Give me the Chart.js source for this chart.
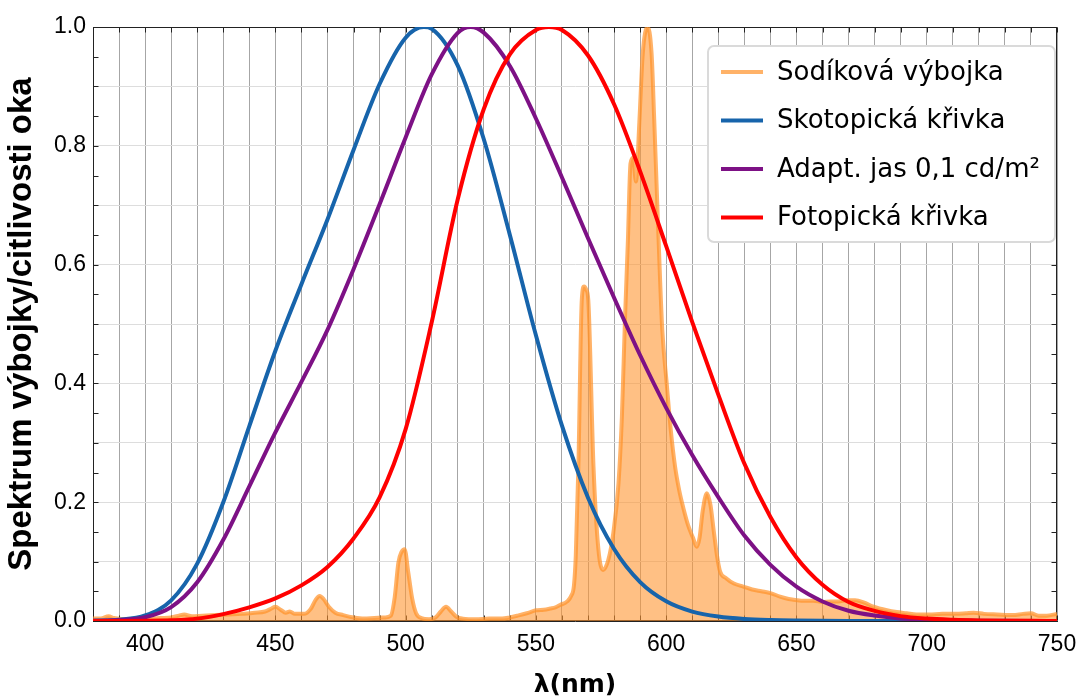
<!DOCTYPE html>
<html>
<head>
<meta charset="utf-8">
<script src="https://cdn.jsdelivr.net/npm/chart.js@4.4.1/dist/chart.umd.min.js"></script>
<style>
html, body { margin: 0; padding: 0; background: #fff; }
</style>
</head>
<body>
<canvas id="spectrumChart" width="1078" height="700"></canvas>
<script>
/* DATA */
const seriesNames = ["Sodíková výbojka", "Skotopická křivka", "Adapt. jas 0,1 cd/m²", "Fotopická křivka"];
const xTickLabels = [400, 450, 500, 550, 600, 650, 700, 750];
const yTickLabels = [0.0, 0.2, 0.4, 0.6, 0.8, 1.0];

const sodiumNm = [380, 383, 386, 388, 392, 397, 402, 406, 410, 413, 415, 418, 422, 427, 432, 437, 442, 446, 448.5, 450,
    452, 454, 455.5, 457.5, 461, 463.5, 465.5, 467, 468.5, 470.5, 473, 476, 480, 484, 488, 492, 494.3, 495.8, 497.2, 498.5,
    499.6, 501, 502.5, 504, 506, 509, 511.5, 513.5, 515.5, 517.5, 519.5, 522, 527, 532, 537, 540, 543, 546.5, 550, 553,
    555.5, 557.5, 559.3, 562, 563.5, 564.6, 565.3, 566.3, 567.6, 568.5, 569.3, 570.1, 572.1, 574, 575.8, 577.8, 579.7, 581.7, 583, 584.2,
    585.3, 586.3, 587.3, 588.4, 589.7, 591, 592.8, 594.4, 595.4, 596.6, 597.7, 598.5, 600.2, 601.8, 603.4, 605, 606.6, 608.5,
    610.3, 611.7, 612.8, 614, 615.6, 617, 618.3, 619.5, 620.7, 623, 626, 629.6, 633, 636.5, 640, 643.7, 647, 650.1,
    653, 656.5, 660, 663, 666, 669.3, 672.5, 676, 679.6, 684.7, 688.5, 692.3, 696, 701, 706, 711, 715, 718,
    722, 727, 733, 737, 740, 743, 746, 750];
const sodiumVal = [0.004, 0.004, 0.008, 0.005, 0.003, 0.004, 0.004, 0.005, 0.006, 0.009, 0.011, 0.008, 0.009, 0.010, 0.011, 0.012, 0.014, 0.016, 0.021, 0.024,
    0.019, 0.014, 0.016, 0.012, 0.012, 0.020, 0.036, 0.042, 0.037, 0.024, 0.014, 0.010, 0.006, 0.004, 0.005, 0.006, 0.009, 0.040, 0.098, 0.117,
    0.121, 0.082, 0.038, 0.013, 0.005, 0.003, 0.006, 0.016, 0.024, 0.016, 0.007, 0.004, 0.003, 0.004, 0.004, 0.006, 0.009, 0.013, 0.018, 0.019,
    0.021, 0.023, 0.027, 0.033, 0.042, 0.060, 0.110, 0.260, 0.540, 0.563, 0.558, 0.540, 0.260, 0.120, 0.086, 0.103, 0.148, 0.232, 0.344, 0.510,
    0.640, 0.770, 0.780, 0.740, 0.840, 0.955, 1.000, 0.955, 0.845, 0.700, 0.570, 0.490, 0.400, 0.320, 0.260, 0.220, 0.190, 0.160,
    0.140, 0.125, 0.140, 0.185, 0.215, 0.195, 0.150, 0.110, 0.083, 0.072, 0.063, 0.058, 0.053, 0.050, 0.047, 0.041, 0.037, 0.035,
    0.034, 0.034, 0.032, 0.033, 0.033, 0.035, 0.035, 0.031, 0.024, 0.018, 0.015, 0.013, 0.011, 0.011, 0.012, 0.012, 0.013, 0.014,
    0.012, 0.011, 0.010, 0.012, 0.013, 0.009, 0.009, 0.012];

const scotNm = [380, 390, 400, 410, 420, 430, 440, 450, 460, 470, 480, 490, 500, 507, 510, 520, 530, 540, 550, 560,
    570, 580, 590, 600, 610, 620, 630, 640, 650, 660, 670, 680, 700, 750];
const scotVal = [0.0006, 0.0022, 0.0093, 0.0348, 0.0966, 0.1998, 0.3281, 0.455, 0.567, 0.676, 0.793, 0.904, 0.982, 1.0, 0.997, 0.935, 0.811, 0.650, 0.481, 0.3288,
    0.2076, 0.1212, 0.0655, 0.0332, 0.0159, 0.0074, 0.0033, 0.0015, 0.0007, 0.0003, 0.0001, 0.0, 0.0, 0.0];

const mesoNm = [380, 390, 400, 410, 420, 430, 440, 450, 460, 470, 480, 490, 500, 510, 520, 525, 530, 540, 550, 560,
    570, 580, 590, 600, 610, 620, 630, 640, 650, 660, 670, 680, 690, 700, 710, 720, 730, 750];
const mesoVal = [0.0004, 0.0015, 0.0063, 0.0234, 0.0652, 0.1367, 0.2266, 0.3175, 0.4025, 0.4902, 0.5923, 0.7017, 0.8141, 0.9202, 0.9902, 1.0, 0.9905, 0.9344, 0.846, 0.7466,
    0.6444, 0.5442, 0.4474, 0.3589, 0.2793, 0.2085, 0.1438, 0.0945, 0.0577, 0.0329, 0.0172, 0.0091, 0.0044, 0.0022, 0.0011, 0.0005, 0.0003, 0.0001];

const photNm = [380, 390, 400, 410, 420, 430, 440, 450, 460, 470, 480, 490, 500, 510, 520, 530, 540, 550, 555, 560,
    570, 580, 590, 600, 610, 620, 630, 640, 650, 660, 670, 680, 690, 700, 710, 720, 730, 740, 750];
const photVal = [0.00004, 0.00012, 0.0004, 0.0012, 0.004, 0.0116, 0.023, 0.038, 0.06, 0.091, 0.139, 0.208, 0.323, 0.503, 0.71, 0.862, 0.954, 0.995, 1.0, 0.995,
    0.952, 0.87, 0.757, 0.631, 0.503, 0.381, 0.265, 0.175, 0.107, 0.061, 0.032, 0.017, 0.0082, 0.0041, 0.0021, 0.001, 0.0005, 0.00025, 0.00012];

function pts(nm, val) {
    return nm.map((x, i) => ({ x, y: val[i] }));
}

/* FRAME + INNER TICKS */
const framePlugin = {
    id: "frame",
    beforeDatasetsDraw(chart) {
        const { ctx, chartArea: a, scales } = chart;
        ctx.save();
        ctx.strokeStyle = "#222";
        ctx.lineWidth = 1;
        const l = Math.round(a.left) + 0.5, r = Math.round(a.right) - 0.5;
        const t = Math.round(a.top) + 0.5, b = Math.round(a.bottom) - 0.5;
        ctx.strokeRect(l, t, r - l, b - t);

        ctx.beginPath();
        for (let v = 380; v <= 750; v += 10) {
            const px = Math.round(scales.x.getPixelForValue(v)) + 0.5;
            ctx.moveTo(px, b); ctx.lineTo(px, b - 5);
            ctx.moveTo(px, t); ctx.lineTo(px, t + 5);
        }
        for (let k = 0; k <= 20; k++) {
            const py = Math.round(scales.y.getPixelForValue(k * 0.05)) + 0.5;
            ctx.moveTo(l, py); ctx.lineTo(l + 5, py);
            ctx.moveTo(r, py); ctx.lineTo(r - 5, py);
        }
        ctx.stroke();
        ctx.restore();
    }
};

/* LEGEND */
const legendPlugin = {
    id: "legendBox",
    afterDraw(chart) {
        const { ctx, chartArea: a } = chart;
        const L = a.right - 349, T = a.top + 19;
        ctx.save();
        ctx.beginPath();
        ctx.roundRect(L, T, 347, 196, 6);
        ctx.fillStyle = "#fff";
        ctx.fill();
        ctx.lineWidth = 2;
        ctx.strokeStyle = "#dadada";
        ctx.stroke();

        ctx.font = '26px "DejaVu Sans"';
        ctx.textBaseline = "middle";
        chart.data.datasets.forEach((ds, i) => {
            const cy = a.top + 45 + i * 48.5;
            ctx.strokeStyle = ds.borderColor;
            ctx.lineWidth = 4;
            ctx.beginPath();
            ctx.moveTo(L + 13, cy);
            ctx.lineTo(L + 55, cy);
            ctx.stroke();
            ctx.fillStyle = "#000";
            ctx.fillText(ds.label, L + 69, cy + 1);
        });
        ctx.restore();
    }
};

/* CHART */
const tickFont = { family: '"Liberation Sans", Arial, sans-serif', size: 23 };

new Chart(document.getElementById("spectrumChart"), {
    type: "line",
    data: {
        datasets: [
            {
                label: seriesNames[0],
                data: pts(sodiumNm, sodiumVal),
                borderColor: "rgba(255, 145, 40, 0.7)",
                backgroundColor: "rgba(255, 150, 50, 0.6)",
                fill: "origin",
                borderWidth: 4,
                order: 4
            },
            {
                label: seriesNames[1],
                data: pts(scotNm, scotVal),
                borderColor: "#1764ab",
                fill: false,
                borderWidth: 4,
                order: 3
            },
            {
                label: seriesNames[2],
                data: pts(mesoNm, mesoVal),
                borderColor: "#7d1185",
                fill: false,
                borderWidth: 4,
                order: 2
            },
            {
                label: seriesNames[3],
                data: pts(photNm, photVal),
                borderColor: "#ff0000",
                fill: false,
                borderWidth: 4,
                order: 1
            }
        ]
    },
    options: {
        responsive: false,
        animation: false,
        devicePixelRatio: 1,
        elements: {
            point: { radius: 0 },
            line: { cubicInterpolationMode: "monotone" }
        },
        layout: { padding: { top: 27, right: 21, left: 0, bottom: 0 } },
        plugins: {
            legend: { display: false },
            tooltip: { enabled: false }
        },
        scales: {
            x: {
                type: "linear",
                min: 380,
                max: 750,
                afterFit(s) {
                    s.height = 79;
                    s.paddingLeft = 0;
                    s.paddingRight = 0;
                },
                ticks: {
                    stepSize: 10,
                    autoSkip: false,
                    maxRotation: 0,
                    padding: 10,
                    color: "#000",
                    font: tickFont,
                    callback: v => xTickLabels.includes(v) ? String(v) : ""
                },
                grid: { color: "#a6a6a6", drawTicks: false },
                border: { color: "#222" },
                title: {
                    display: true,
                    text: "λ(nm)",
                    color: "#000",
                    font: { family: '"DejaVu Sans", sans-serif', size: 25, weight: "bold" },
                    padding: { top: 0, bottom: 0 }
                }
            },
            y: {
                min: 0,
                max: 1,
                afterFit(s) {
                    s.width = 93;
                    s.paddingTop = 0;
                    s.paddingBottom = 0;
                },
                ticks: {
                    stepSize: 0.1,
                    padding: 7,
                    color: "#000",
                    font: tickFont,
                    callback: v => {
                        const lab = yTickLabels.find(t => Math.abs(t - v) < 1e-6);
                        return lab === undefined ? "" : lab.toFixed(1);
                    }
                },
                grid: { color: "#dddddd", drawTicks: false },
                border: { color: "#222" },
                title: {
                    display: true,
                    text: "Spektrum výbojky/citlivosti oka",
                    color: "#000",
                    font: { family: '"Liberation Sans", Arial, sans-serif', size: 33, weight: "bold" },
                    padding: { top: 2, bottom: 0 }
                }
            }
        }
    },
    plugins: [framePlugin, legendPlugin]
});
</script>
</body>
</html>
